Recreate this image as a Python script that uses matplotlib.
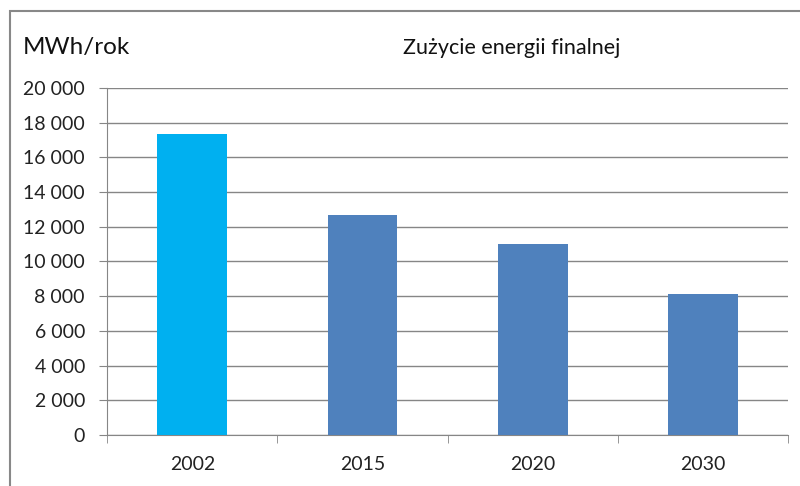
import matplotlib.pyplot as plt
from matplotlib.patches import Rectangle
from matplotlib.ticker import FuncFormatter

# data
years = ['2002', '2015', '2020', '2030']
energy = [17350, 12700, 11000, 8150]
bar_colors = ['#00B0F0', '#4F81BD', '#4F81BD', '#4F81BD']
y_ticks = list(range(0, 20001, 2000))

plt.rcParams['font.family'] = ['Lato', 'DejaVu Sans']

fig = plt.figure(figsize=(8, 4.86), dpi=100)
ax = fig.add_axes([0.134, 0.105, 0.851, 0.714])

# outer chart frame (cut off at right/bottom like the screenshot)
fig.patches.append(Rectangle((10 / 800, -0.1), 1.1, 1 - 11 / 486 + 0.1,
                             transform=fig.transFigure, fill=False,
                             edgecolor='#888888', linewidth=1.5))

x = range(len(years))
ax.bar(x, energy, width=0.41, color=bar_colors, zorder=3)

ax.set_xlim(-0.5, len(years) - 0.5)
ax.set_ylim(0, 20000)
ax.set_yticks(y_ticks)
ax.yaxis.set_major_formatter(FuncFormatter(lambda v, p: f'{int(v):,}'.replace(',', ' ')))
ax.set_xticks(list(x))
ax.set_xticklabels(years)
ax.set_xticks([i - 0.5 for i in range(len(years) + 1)], minor=True)

ax.grid(axis='y', color='#868686', linewidth=1, zorder=0)
for side in ['top', 'right']:
    ax.spines[side].set_visible(False)
for side in ['left', 'bottom']:
    ax.spines[side].set_color('#868686')

ax.tick_params(axis='y', length=6, color='#868686', labelsize=14, pad=10, labelcolor='#222222')
ax.tick_params(axis='x', which='major', length=0, labelsize=14, pad=15, labelcolor='#222222')
ax.tick_params(axis='x', which='minor', length=6, color='#868686')

fig.text(23 / 800, 1 - 47 / 486, 'MWh/rok', fontsize=17.5, va='center', ha='left', color='#111111')
fig.text(512 / 800, 1 - 48 / 486, 'Zużycie energii finalnej', fontsize=15.5,
         va='center', ha='center', color='#111111')

fig.savefig('out.png', dpi=100)
